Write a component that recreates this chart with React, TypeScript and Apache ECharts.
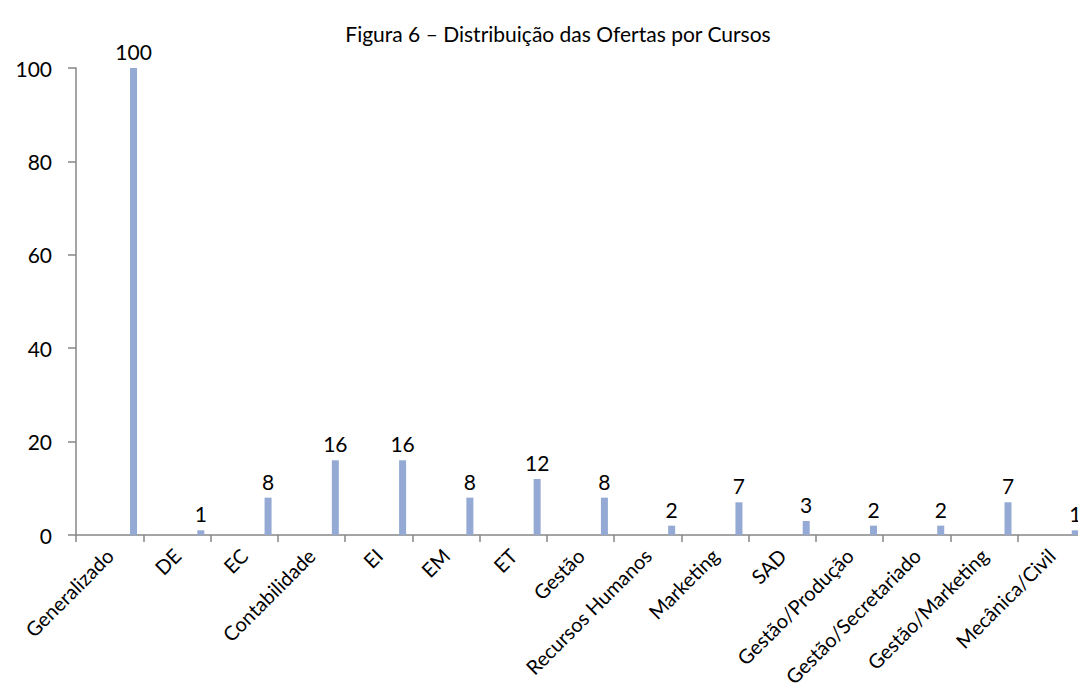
import React, { useEffect, useRef } from "react";
import * as echarts from "echarts";

const title = "Figura 6 – Distribuição das Ofertas por Cursos";
const categories = [
  "Generalizado", "DE", "EC", "Contabilidade", "EI", "EM", "ET", "Gestão",
  "Recursos Humanos", "Marketing", "SAD", "Gestão/Produção", "Gestão/Secretariado",
  "Gestão/Marketing", "Mecânica/Civil",
];
const values = [100, 1, 8, 16, 16, 8, 12, 8, 2, 7, 3, 2, 2, 7, 1];
const placeholder = categories.map(() => null);
const yTicks = { min: 0, max: 100, interval: 20 };

export default function App() {
  const ref = useRef<HTMLDivElement>(null);
  useEffect(() => {
    document.body.style.margin = "0";
    const chart = echarts.init(ref.current!, null, { renderer: "svg" });
    const font = "Lato, 'Open Sans', sans-serif";
    chart.setOption({
      animation: false,
      title: {
        text: title,
        left: 553,
        top: 18,
        textAlign: "center",
        textStyle: { fontFamily: font, fontSize: 21, fontWeight: "normal", color: "#000" },
      },
      grid: {
        left: 76, top: 68, width: 1009, bottom: 149,
        containLabel: false, outerBoundsMode: "none",
      },
      xAxis: {
        type: "category",
        data: categories,
        axisLine: { lineStyle: { color: "#868686", width: 1.5 } },
        axisTick: { show: true, length: 7, lineStyle: { color: "#868686", width: 1.5 } },
        axisLabel: { rotate: 45, interval: 0, margin: 17, fontFamily: font, fontSize: 20, color: "#000" },
      },
      yAxis: {
        type: "value",
        min: yTicks.min,
        max: yTicks.max,
        interval: yTicks.interval,
        axisLine: { show: true, lineStyle: { color: "#868686", width: 1.5 } },
        axisTick: { show: true, length: 8, lineStyle: { color: "#868686", width: 1.5 } },
        splitLine: { show: false },
        axisLabel: { margin: 24, fontFamily: font, fontSize: 21, color: "#000" },
      },
      series: [
        { type: "bar", data: placeholder, barWidth: 7, barGap: "583%" },
        {
          type: "bar",
          data: values,
          barWidth: 7,
          barGap: "583%",
          itemStyle: { color: "#94a9d3" },
          label: { show: true, position: "top", distance: 6, fontFamily: font, fontSize: 21, color: "#000" },
        },
      ],
    });
    return () => chart.dispose();
  }, []);
  return <div ref={ref} style={{ width: 1078, height: 684 }} />;
}
